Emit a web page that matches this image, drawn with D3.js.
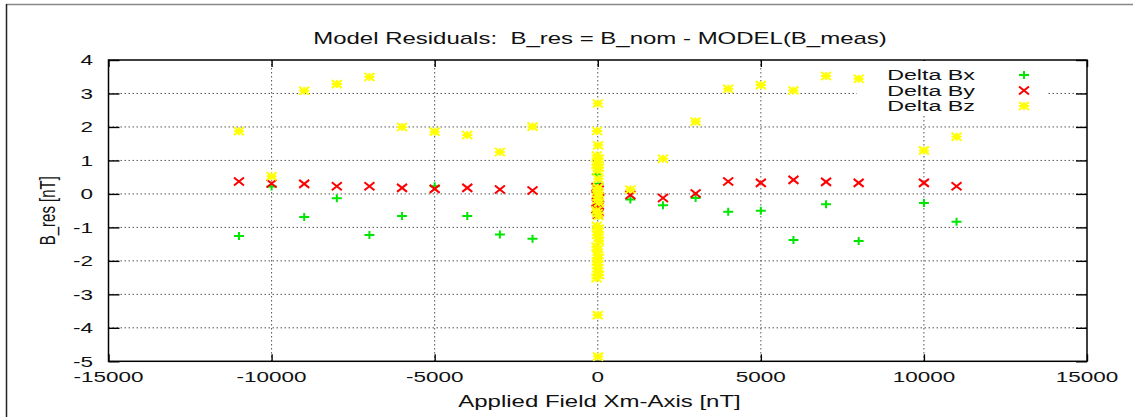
<!DOCTYPE html>
<html>
<head>
<meta charset="utf-8">
<script src="https://cdn.jsdelivr.net/npm/d3@7"></script>
<style>
  html, body { margin: 0; padding: 0; background: #fff; }
  svg { display: block; }
  text { font-family: "Liberation Sans", Arial, Helvetica, sans-serif; fill: #111; white-space: pre; }
</style>
</head>
<body>
<svg id="chart" width="1133" height="417"></svg>
<script>
// ---------- data ----------
const title = "Model Residuals:  B_res = B_nom - MODEL(B_meas)";
const xLabel = "Applied Field Xm-Axis [nT]";
const yLabel = "B_res [nT]";
const seriesNames = ["Delta Bx", "Delta By", "Delta Bz"];
const xTicks = [-15000, -10000, -5000, 0, 5000, 10000, 15000];
const yTicks = [-5, -4, -3, -2, -1, 0, 1, 2, 3, 4];

// step measurements
const stepField = [-11000, -10000, -9000, -8000, -7000, -6000, -5000, -4000, -3000, -2000,
                   1000, 2000, 3000, 4000, 5000, 6000, 7000, 8000, 10000, 11000];
const bxStep = [-1.26, 0.22, -0.69, -0.13, -1.23, -0.66, 0.23, -0.66, -1.21, -1.34,
                -0.17, -0.34, -0.12, -0.53, -0.50, -1.38, -0.31, -1.41, -0.27, -0.83];
const byStep = [0.37, 0.31, 0.30, 0.23, 0.23, 0.18, 0.15, 0.18, 0.13, 0.10,
                -0.03, -0.12, 0.01, 0.37, 0.33, 0.42, 0.36, 0.33, 0.33, 0.23];
const bzStep = [1.87, 0.53, 3.08, 3.28, 3.49, 2.00, 1.86, 1.76, 1.25, 2.01,
                0.13, 1.05, 2.16, 3.14, 3.25, 3.09, 3.52, 3.44, 1.30, 1.71];

// zero-field repeated measurements
const bxZeroField = [-30, 20, 0, -20, 30];
const bxZeroValue = [0.59, 0.30, -0.64, 0.05, -0.20];
const byZeroField = [-40, 30, 0, -30, 40, 0, -20, 20, -40, 30, 0];
const byZeroValue = [0.20, 0.12, 0.04, -0.05, -0.14, -0.22, -0.30, -0.38, -0.46, -0.54, -0.62];
const bzZeroField = [0, -20, 10, -30, 30, 0, -40, 40, -10, 20, 0, -30, 30, 10, -20, 40, -40, 0, 20,
                     -30, 30, 0, -20, 20, 40, -40, 10, -10, 30, -30, 0, 20, -20, 40, -40, 0, 10];
const bzZeroValue = [2.70, 1.88, 1.45, 1.15, 1.05, 0.96, 0.87, 0.78, 0.70, 0.45, 0.18, 0.10, 0.02,
                     -0.08, -0.18, -0.26, -0.50, -0.58, -0.66, -0.95, -1.04, -1.13, -1.22, -1.31,
                     -1.40, -1.58, -1.65, -1.82, -1.92, -2.02, -2.12, -2.22, -2.32, -2.42, -2.52,
                     -3.62, -4.86];

const colors = ["#00e600", "#ff0000", "#ffff00"];

// ---------- layout ----------
const svg = d3.select("#chart");
const SX = 1.5; // horizontal stretch of the text
const pLeft = 108.5, pRight = 1087, pTop = 60, pBottom = 361.3;
const x = d3.scaleLinear().domain([-15000, 15000]).range([pLeft, pRight]);
const y = d3.scaleLinear().domain([-5, 4]).range([pBottom, pTop]);

function label(txt, px, py, anchor, size) {
  return svg.append("text")
    .attr("transform", `translate(${px},${py}) scale(${SX},1)`)
    .attr("text-anchor", anchor)
    .attr("xml:space", "preserve")
    .style("font-size", (size || 15) + "px")
    .text(txt);
}

// outer image border
svg.append("line").attr("x1", 6).attr("x2", 1133).attr("y1", 4.5).attr("y2", 4.5)
  .attr("stroke", "#888").attr("stroke-width", 1.5);
svg.append("line").attr("x1", 6.5).attr("x2", 6.5).attr("y1", 4).attr("y2", 417)
  .attr("stroke", "#222").attr("stroke-width", 1.5);

// grid
const grid = svg.append("g").attr("stroke", "#555").attr("stroke-width", 1)
  .attr("stroke-dasharray", "1.5,2.5");
xTicks.filter(t => t > -15000 && t < 15000).forEach(t => {
  grid.append("line").attr("x1", x(t)).attr("x2", x(t)).attr("y1", pTop).attr("y2", pBottom);
});
yTicks.filter(t => t > -5 && t < 4).forEach(t => {
  grid.append("line").attr("x1", pLeft).attr("x2", pRight).attr("y1", y(t)).attr("y2", y(t));
});

// axes via d3 (tick marks inward, labels drawn separately for stretch)
const axB = svg.append("g").attr("transform", `translate(0,${pBottom})`)
  .call(d3.axisBottom(x).tickValues(xTicks).tickSizeInner(-7).tickSizeOuter(0).tickFormat(""));
const axT = svg.append("g").attr("transform", `translate(0,${pTop})`)
  .call(d3.axisTop(x).tickValues(xTicks).tickSizeInner(-7).tickSizeOuter(0).tickFormat(""));
const axL = svg.append("g").attr("transform", `translate(${pLeft},0)`)
  .call(d3.axisLeft(y).tickValues(yTicks).tickSizeInner(-11).tickSizeOuter(0).tickFormat(""));
const axR = svg.append("g").attr("transform", `translate(${pRight},0)`)
  .call(d3.axisRight(y).tickValues(yTicks).tickSizeInner(-11).tickSizeOuter(0).tickFormat(""));
[axB, axT, axL, axR].forEach(a => {
  a.select(".domain").remove();
  a.selectAll("line").attr("stroke", "#000").attr("stroke-width", 1.4);
});

// legend background (opaque key)
svg.append("rect").attr("x", 857).attr("y", 61).attr("width", 190).attr("height", 53)
  .attr("fill", "#fff");

// frame
svg.append("rect").attr("x", pLeft).attr("y", pTop).attr("width", pRight - pLeft)
  .attr("height", pBottom - pTop).attr("fill", "none").attr("stroke", "#000").attr("stroke-width", 1.5);

// tick labels
xTicks.forEach(t => label(String(t), x(t), 382, "middle"));
yTicks.forEach(t => label(String(t), 93, y(t) + 5.3, "end"));

// titles
label(title, 600, 43.5, "middle", 16);
label(xLabel, 599.5, 406.5, "middle", 16);
svg.append("text")
  .attr("transform", `translate(55,${(pTop + pBottom) / 2}) scale(${SX},1) rotate(-90)`)
  .attr("text-anchor", "middle").style("font-size", "15px").text(yLabel);

// markers
const plusPath = "M-5,0H5M0,-4V4";
const crossPath = "M-5,-4L5,4M-5,4L5,-4";
const starPath = plusPath + crossPath;
const shapes = [plusPath, crossPath, starPath];

function drawSeries(fields, values, idx) {
  svg.append("g").selectAll("path").data(d3.zip(fields, values)).join("path")
    .attr("transform", d => `translate(${x(d[0])},${y(d[1])})`)
    .attr("d", shapes[idx])
    .attr("fill", "none")
    .attr("stroke", colors[idx])
    .attr("stroke-width", 2);
}
drawSeries(stepField.concat(bxZeroField), bxStep.concat(bxZeroValue), 0);
drawSeries(stepField.concat(byZeroField), byStep.concat(byZeroValue), 1);
drawSeries(stepField.concat(bzZeroField), bzStep.concat(bzZeroValue), 2);

// legend
const legendY = [75, 90.5, 106];
seriesNames.forEach((n, i) => {
  label(n, 975, legendY[i] + 5.3, "end", 15.5);
  svg.append("path").attr("transform", `translate(1024,${legendY[i]})`)
    .attr("d", shapes[i]).attr("fill", "none").attr("stroke", colors[i]).attr("stroke-width", 2);
});
</script>
</body>
</html>
